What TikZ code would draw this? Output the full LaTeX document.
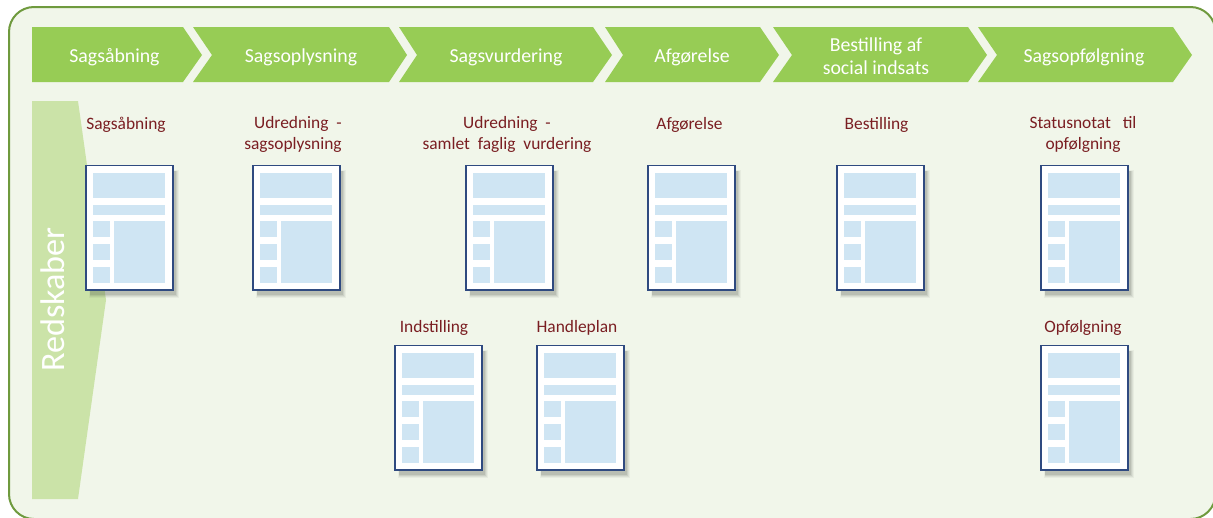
\documentclass[tikz,border=0pt]{standalone}
\usepackage{fontspec}
\setmainfont{Carlito}
\definecolor{panelfill}{HTML}{F1F6EA}
\definecolor{paneledge}{HTML}{6F9A3E}
\definecolor{stepgreen}{HTML}{97CC55}
\definecolor{toolgreen}{HTML}{CBE3A8}
\definecolor{docblue}{HTML}{CFE5F3}
\definecolor{docedge}{HTML}{2F4A80}
\definecolor{labelred}{HTML}{7A1E22}
\definecolor{docshade}{HTML}{3A4038}
\tikzset{
  steparrow/.style={fill=stepgreen,draw=none},
  steplabel/.style={text=white,align=center,font=\fontsize{19.8}{23}\selectfont,inner sep=0pt},
  doclabel/.style={text=labelred,align=center,font=\fontsize{17.4}{21}\selectfont,inner sep=0pt},
  docblock/.style={fill=docblue,draw=none},
  docpage/.pic={
    \fill [docshade,opacity=0.05] (4,5) rectangle (94,133);
    \fill [docshade,opacity=0.07] (5,6) rectangle (93,132);
    \fill [docshade,opacity=0.09] (5,6) rectangle (92,131);
    \fill [docshade,opacity=0.12] (5,6) rectangle (91,130);
    \draw [docedge,fill=white,line width=1.7pt] (0.8,0.4) rectangle (88.3,125.2);
    \fill [docblock] (8,8.4) rectangle (80,33.4);
    \fill [docblock] (8,40.4) rectangle (80,50.4);
    \fill [docblock] (8,56.4) rectangle (25,72.4);
    \fill [docblock] (8,79.4) rectangle (25,95.4);
    \fill [docblock] (8,102.4) rectangle (25,118.4);
    \fill [docblock] (29,56.4) rectangle (80,118.4);
  }
}
\begin{document}
\begin{tikzpicture}[x=1pt,y=-1pt]
\useasboundingbox (0,0) rectangle (1213,517);
\draw [paneledge,fill=panelfill,line width=2pt,rounded corners=25pt] (9,7) rectangle (1215.5,519);
% steps
\fill [steparrow] (32,27) -- (183,27) -- (202,55) -- (183,82) -- (32,82) -- cycle;
\fill [steparrow] (193,27) -- (389,27) -- (407,55) -- (389,82) -- (193,82) -- (212,55) -- cycle;
\fill [steparrow] (399,27) -- (593,27) -- (612,55) -- (593,82) -- (399,82) -- (417,55) -- cycle;
\fill [steparrow] (605,27) -- (760,27) -- (779,55) -- (760,82) -- (605,82) -- (623,55) -- cycle;
\fill [steparrow] (773,27) -- (968,27) -- (987,55) -- (968,82) -- (773,82) -- (792,55) -- cycle;
\fill [steparrow] (978,27) -- (1173,27) -- (1192,55) -- (1173,82) -- (978,82) -- (997,55) -- cycle;
\node (s1) at (114.5,57.5) [steplabel] {Sagsåbning};
\node (s2) at (301,57.5) [steplabel] {Sagsoplysning};
\node (s3) at (506,57.5) [steplabel] {Sagsvurdering};
\node (s4) at (692,57.5) [steplabel] {Afgørelse};
\node (s5) at (876,56.5) [steplabel] {Bestilling af\\social indsats};
\node (s6) at (1084,57.5) [steplabel] {Sagsopfølgning};
% tools band
\fill [toolgreen] (32,101) -- (78,101) -- (106,300) -- (78,499) -- (32,499) -- cycle;
\node (tools) at (53,299.5) [rotate=90,text=white,inner sep=0pt,font=\fontsize{34.2}{36}\selectfont] {Redskaber};
% documents
\pic at (85,165) {docpage};
\pic at (252,165) {docpage};
\pic at (465,165) {docpage};
\pic at (647,165) {docpage};
\pic at (836,165) {docpage};
\pic at (1040,165) {docpage};
\pic at (394,345) {docpage};
\pic at (536,345) {docpage};
\pic at (1040,345) {docpage};
\node (d1) at (126,124.5) [doclabel] {Sagsåbning};
\node (d2) at (293,134.5) [doclabel,align=right] {Udredning\ \ -\\sagsoplysning};
\node (d3) at (507,134.5) [doclabel] {Udredning\ \ -\\samlet\ \ faglig\ \ vurdering};
\node (d4) at (689.5,124.5) [doclabel] {Afgørelse};
\node (d5) at (876.5,124.5) [doclabel] {Bestilling};
\node (d6) at (1083,134.5) [doclabel] {Statusnotat\ \ \ til\\opfølgning};
\node (d7) at (434,328) [doclabel] {Indstilling};
\node (d8) at (577,328) [doclabel] {Handleplan};
\node (d9) at (1083,328) [doclabel] {Opfølgning};
\end{tikzpicture}
\end{document}
